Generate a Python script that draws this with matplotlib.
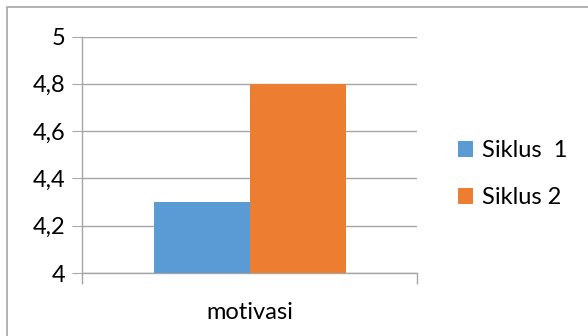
import matplotlib
matplotlib.use("Agg")
import matplotlib.pyplot as plt
from matplotlib.patches import Rectangle
from matplotlib.ticker import FixedLocator

categories = ["motivasi"]
series_names = ["Siklus  1", "Siklus 2"]
siklus1 = [4.3]
siklus2 = [4.8]
y_ticks = [4.0, 4.2, 4.4, 4.6, 4.8, 5.0]
y_tick_labels = ["4", "4,2", "4,4", "4,6", "4,8", "5"]
colors = ["#5B9BD5", "#ED7D31"]

plt.rcParams['font.family'] = ['Lato', 'DejaVu Sans']

W, H = 588, 336
fig = plt.figure(figsize=(W / 100, H / 100), dpi=100)

# outer chart border (left and top visible)
fig.patches.append(Rectangle((7 / W, -0.1), 1.2, 1 - 7 / H + 0.1, transform=fig.transFigure,
                             fill=False, edgecolor="#A6A6A6", linewidth=1.2))

ax = fig.add_axes([82 / W, 63 / H, 335 / W, 236.5 / H])

grid_col = "#A6A6A6"
fs = 17
bw = 96 / 335
x = list(range(len(categories)))
ax.bar([i - bw / 2 for i in x], siklus1, width=bw, color=colors[0], label=series_names[0], zorder=3)
ax.bar([i + bw / 2 for i in x], siklus2, width=bw, color=colors[1], label=series_names[1], zorder=3)

ax.set_xlim(-0.5, len(categories) - 0.5)
ax.set_ylim(4.0, 5.0)
ax.set_yticks(y_ticks)
ax.set_yticklabels(y_tick_labels)
ax.set_xticks(x)
ax.set_xticklabels(categories)
ax.xaxis.set_minor_locator(FixedLocator([-0.5, len(categories) - 0.5]))

ax.yaxis.grid(True, color=grid_col, linewidth=1, zorder=0)
for s in ["top", "right"]:
    ax.spines[s].set_visible(False)
ax.spines["left"].set_color(grid_col)
ax.spines["bottom"].set_color(grid_col)
ax.spines["left"].set_linewidth(1)
ax.spines["bottom"].set_linewidth(1)

ax.tick_params(axis="y", which="major", length=7, color=grid_col, labelsize=fs, pad=5, labelcolor="black")
ax.tick_params(axis="x", which="major", length=0, labelsize=fs, pad=21, labelcolor="black")
ax.tick_params(axis="x", which="minor", length=8, color=grid_col, width=1)

leg = ax.legend(loc="center left", bbox_to_anchor=(458 / W, 162 / H), bbox_transform=fig.transFigure,
                frameon=False, fontsize=fs, handlelength=0.65, handleheight=0.65,
                handletextpad=0.35, labelspacing=1.1, borderaxespad=0, borderpad=0)

fig.savefig("out.png", dpi=100)
